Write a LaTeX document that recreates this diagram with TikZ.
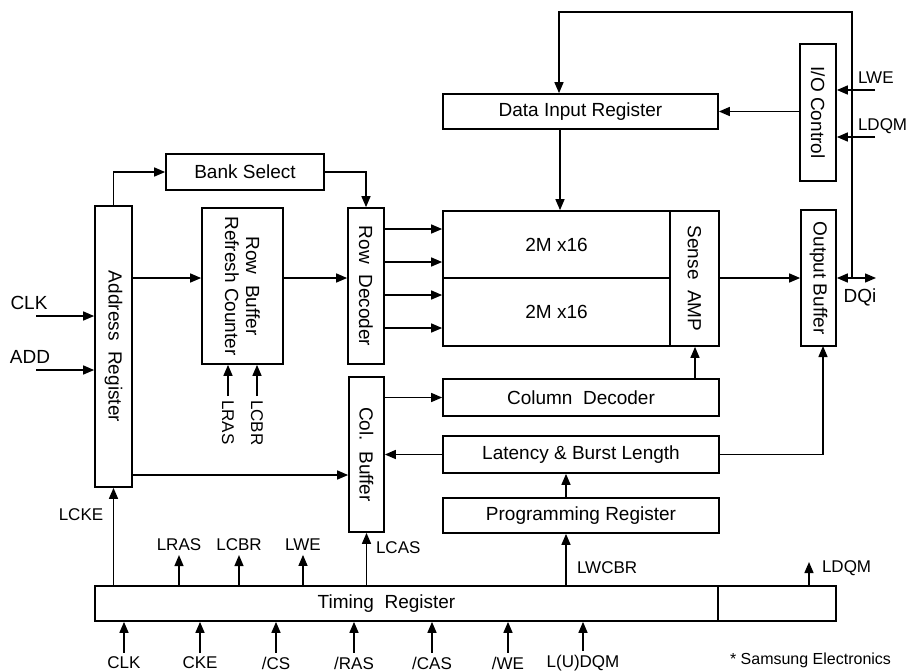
\documentclass[tikz,border=0pt]{standalone}
\usepackage{fontspec}
\setmainfont{Liberation Sans}
\usetikzlibrary{arrows.meta}
\begin{document}
\begin{tikzpicture}[x=1pt,y=-1pt,line width=1.4pt,
  >={Triangle[length=11pt,width=9pt]},
  every node/.style={font=\fontsize{19}{21}\selectfont},
  sig/.style={font=\fontsize{17}{19}\selectfont},
  box/.style 2 args={draw,line width=1.7pt,minimum width=#1pt,minimum height=#2pt,inner sep=0pt},
  vtext/.style={label={[rotate=-90,align=center]center:#1}}]
\useasboundingbox (0,0) rectangle (906,672);
\path node[box={37}{281},vtext={Address\ \ Register}] (addr) at (113.5,346.5) {}
node[box={158}{36}] (bank) at (245,172) {Bank Select}
node[box={81}{156},vtext={Row\ \ Buffer\\Refresh Counter}] (rbrc) at (242.5,286) {}
node[box={36}{156},vtext={Row\ \ Decoder}] (rowdec) at (366,286) {}
node[box={35}{155},vtext={Col.\ \ Buffer}] (colbuf) at (366.5,454.5) {}
node[box={227}{67}] (arrA) at (556.5,244.5) {2M x16}
node[box={227}{68}] (arrB) at (556.5,312) {2M x16}
node[box={49}{135},vtext={Sense\ \ AMP}] (sense) at (694.5,278.5) {}
node[box={275}{35}] (dir) at (580.5,111.5) {Data Input Register}
node[box={36}{137},vtext={I/O Control}] (ioc) at (818,112.5) {}
node[box={35}{136},vtext={Output Buffer}] (outbuf) at (818.5,278) {}
node[box={276}{37}] (coldec) at (581,397.5) {Column\ \ Decoder}
node[box={276}{37}] (lat) at (581,454.5) {Latency \& Burst Length}
node[box={276}{35}] (prog) at (581,515.5) {Programming Register}
node[box={623}{35},label={[xshift=-20pt]center:Timing\ \ Register}] (timing) at (406.5,603.5) {}
node[box={118}{35}] (timx) at (777,603.5) {}
;
\path node (clk) at (29,303) {CLK}
node (add) at (30,357) {ADD}
node[sig,rotate=-90,anchor=west] (lras) at (228,396) {LRAS}
node[sig,rotate=-90,anchor=west] (lcbr) at (257,396) {LCBR}
node[sig] (lcke) at (81,515) {LCKE}
node[sig] (tlras) at (179,545) {LRAS}
node[sig] (tlcbr) at (239,545) {LCBR}
node[sig] (tlwe) at (303,545) {LWE}
node[sig,anchor=west] (lcas) at (372,548) {LCAS}
node[sig,anchor=west] (lwcbr) at (573,568) {LWCBR}
node[sig,anchor=west] (ldqm) at (818,568) {LDQM}
node[sig,anchor=west] (lwe) at (854,78) {LWE}
node[sig,anchor=west] (rldqm) at (854,126) {LDQM}
node (dqi) at (860,297) {DQi}
node[font=\fontsize{16}{18}\selectfont,anchor=west] (note) at (726,660) {* Samsung Electronics}
;
\coordinate (clkin) at (36,316);
\coordinate (addin) at (36,370);
\coordinate (lwein) at (875,90);
\coordinate (ldqmin) at (875,137);
\coordinate (dq) at (852,278);
\coordinate (dqo) at (876,278);
\coordinate (loop) at (559,12);
\coordinate (obin) at (823,346);
\coordinate (ldqmout) at (809,562);
\draw[->]   (addr.north) |- (bank.west);
\draw[->]   (bank.east) -| (rowdec.north);
\draw[->]   (addr.east |- 0,278) -- (rbrc.west |- 0,278);
\draw[->]   (rbrc.east |- 0,278) -- (rowdec.west |- 0,278);
\foreach \y in {229,262,295,328}
  \draw[->]   (rowdec.east |- 0,\y) -- (arrA.west |- 0,\y);
\draw[->]   (clkin) -- (clkin -| addr.west);
\draw[->]   (addin) -- (addin -| addr.west);
\draw[->]   (lras.west) -- (lras.west |- rbrc.south);
\draw[->]   (lcbr.west) -- (lcbr.west |- rbrc.south);
\draw[->]   (addr.east |- 0,475) -- (colbuf.west |- 0,475);
\draw[->]   (colbuf.east |- coldec.west) -- (coldec.west);
\draw[->]   (lat.west) -- (lat.west -| colbuf.east);
\draw[->]   (coldec.north -| 695,0) -- (sense.south -| 695,0);
\draw[->]   (prog.north -| 566,0) -- (lat.south -| 566,0);
\draw[->]   (timing.north -| 566,0) -- (prog.south -| 566,0);
\draw[->]   (dir.south -| 560,0) -- (arrA.north -| 560,0);
\draw[->]   (dq) |- (loop) -- (loop |- dir.north);
\draw[->]   (ioc.west |- dir.east) -- (dir.east);
\draw[->]   (lwein) -- (lwein -| ioc.east);
\draw[->]   (ldqmin) -- (ldqmin -| ioc.east);
\draw[->]   (sense.east |- 0,278) -- (outbuf.west |- 0,278);
\draw[<->]  (outbuf.east |- dqo) -- (dqo);
\draw[->]   (lat.east) -| (obin);
\draw[->]   (timing.north -| addr.south) -- (addr.south);
\draw[->]   (timing.north -| tlras) -- (tlras.south);
\draw[->]   (timing.north -| tlcbr) -- (tlcbr.south);
\draw[->]   (timing.north -| tlwe) -- (tlwe.south);
\draw[->]   (timing.north -| colbuf.south) -- (colbuf.south);
\draw[->]   (timx.north -| ldqmout) -- (ldqmout);
\foreach \x/\s [count=\i] in {124/CLK,200/CKE,276/{/CS},354/{/RAS},432/{/CAS},508/{/WE},583/{L(U)DQM}}
  {\node[sig] (in\i) at (\x,663) {\s};
   \draw[->]   (in\i.north) -- (in\i.north |- timing.south);}
\end{tikzpicture}
\end{document}
